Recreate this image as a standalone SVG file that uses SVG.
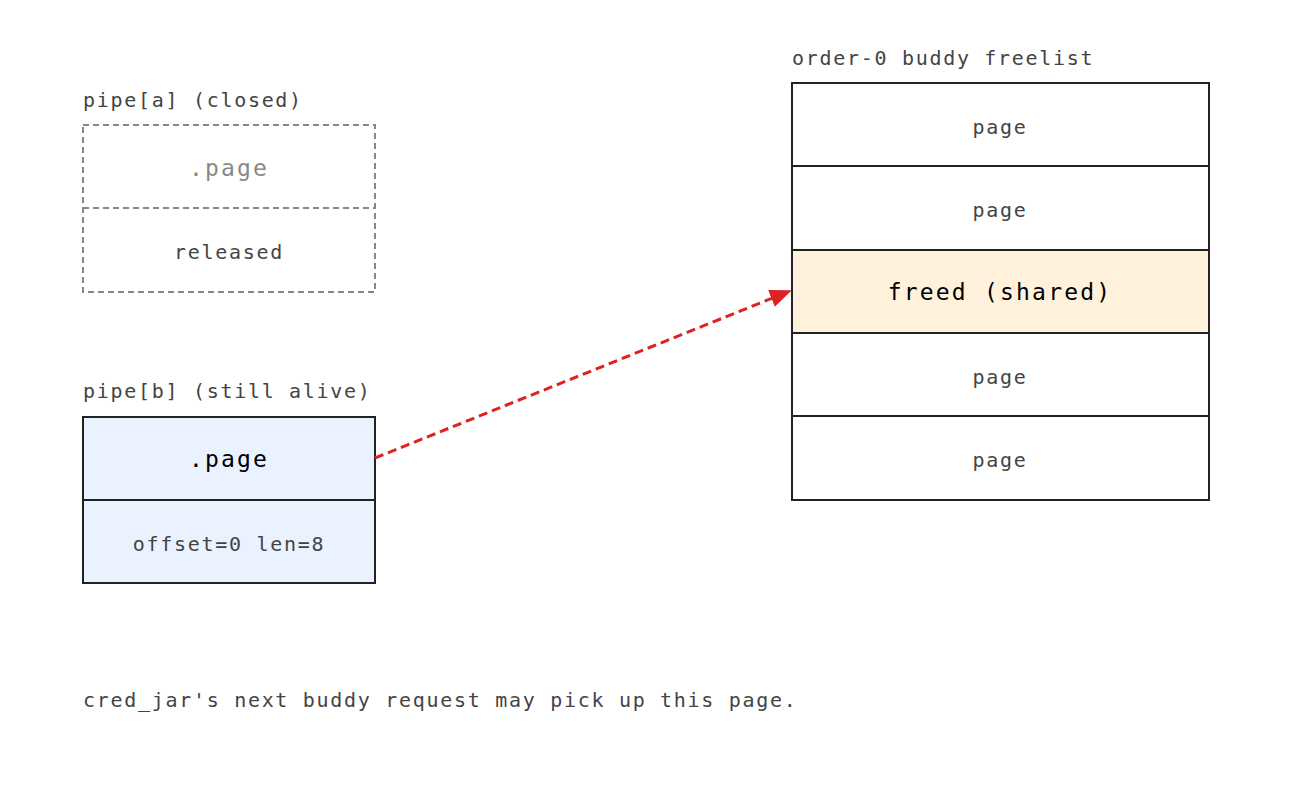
<svg xmlns="http://www.w3.org/2000/svg" width="1292" height="792" viewBox="0 0 1292 792">
<style>
text{font-family:"DejaVu Sans Mono",monospace;fill:#444}
.s{font-size:20px;letter-spacing:1.7px}
.b{font-size:23px;letter-spacing:2.2px;fill:#000}
.m{text-anchor:middle}
.box{stroke:#222;stroke-width:2}
.dash{fill:none;stroke:#888;stroke-width:2;stroke-dasharray:6,4}
</style>
<defs><marker id="ah" markerWidth="22" markerHeight="18" refX="20" refY="9" orient="auto" markerUnits="userSpaceOnUse" viewBox="0 0 22 18"><path d="M0,0L22,9L0,18z" fill="#dd2222"/></marker></defs>
<rect width="1292" height="792" fill="#fff"/>
<g id="pipe_a">
<text class="s" x="83" y="107">pipe[a] (closed)</text>
<rect class="dash" x="83" y="125" width="292" height="167"/>
<line class="dash" x1="83" y1="208" x2="375" y2="208"/>
<text class="b m" x="229" y="176" style="fill:#888">.page</text>
<text class="s m" x="229" y="259">released</text>
</g>
<g id="pipe_b">
<text class="s" x="83" y="398">pipe[b] (still alive)</text>
<rect class="box" x="83" y="417" width="292" height="166" fill="#eaf2ff"/>
<line class="box" x1="83" y1="500" x2="375" y2="500"/>
<text class="b m" x="229" y="467">.page</text>
<text class="s m" x="229" y="551">offset=0 len=8</text>
</g>
<g id="freelist">
<text class="s" x="792" y="65">order-0 buddy freelist</text>
<rect class="box" x="792" y="83" width="417" height="417" fill="#fff"/>
<rect class="box" x="792" y="250" width="417" height="83" fill="#fff1dc"/>
<line class="box" x1="792" y1="166" x2="1209" y2="166"/>
<line class="box" x1="792" y1="416" x2="1209" y2="416"/>
<text class="s m" x="1000" y="134">page</text>
<text class="s m" x="1000" y="217">page</text>
<text class="b m" x="1000" y="300">freed (shared)</text>
<text class="s m" x="1000" y="384">page</text>
<text class="s m" x="1000" y="467">page</text>
</g>
<g id="connectors">
<line x1="375" y1="458" x2="790" y2="291" stroke="#dd2222" stroke-width="3" stroke-dasharray="9,5" marker-end="url(#ah)"/>
</g>
<text class="s" x="83" y="707">cred_jar's next buddy request may pick up this page.</text>
</svg>
